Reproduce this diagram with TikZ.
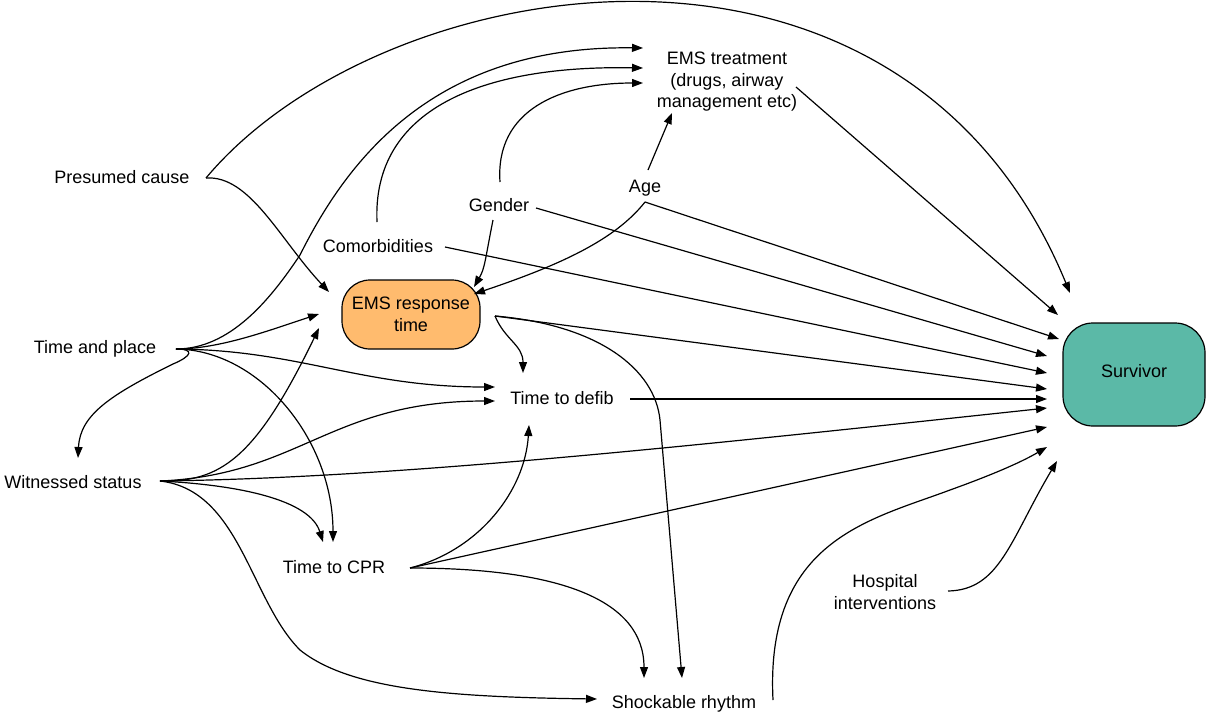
\documentclass[tikz,border=0pt]{standalone}
\usepackage{fontspec}
\setmainfont{Liberation Sans}
\usetikzlibrary{arrows.meta}
\definecolor{ertfill}{HTML}{FFBB6E}
\definecolor{survfill}{HTML}{5BB9A7}
\begin{document}
\begin{tikzpicture}[x=1pt,y=-1pt,
  lbl/.style={font=\fontsize{18}{21.5}\selectfont, inner sep=0pt, align=center, text height=13pt, text depth=0pt},
  mlbl/.style={font=\fontsize{18}{21.5}\selectfont, inner sep=0pt, align=center},
  box/.style={mlbl, draw, line width=1.2pt, rounded corners=28pt},
  edge/.style={line width=1.2pt, -{Triangle[length=11pt,width=8pt]}}]
\useasboundingbox (0,0) rectangle (1206,713);
% nodes
\node[lbl] (pc) at (122,177) {Presumed cause};
\node[lbl] (tp) at (95,347) {Time and place};
\node[lbl] (ws) at (73,482) {Witnessed status};
\node[mlbl] (emt) at (727,82) {EMS treatment\\(drugs, airway\\management etc)};
\node[lbl] (age) at (645,186) {Age};
\node[lbl] (gen) at (499,205) {Gender};
\node[lbl] (com) at (378,246) {Comorbidities};
\node[box, fill=ertfill, minimum width=138pt, minimum height=69pt] (ert) at (411,314.5) {EMS response\\time};
\node[lbl] (ttd) at (562,398) {Time to defib};
\node[lbl] (cpr) at (334,567) {Time to CPR};
\node[lbl] (sr) at (684,702) {Shockable rhythm};
\node[mlbl] (hi) at (885,592) {Hospital\\interventions};
\node[box, fill=survfill, minimum width=142pt, minimum height=103pt, rounded corners=30pt,
      text height=13pt, text depth=7pt] (surv) at (1134,374.5) {Survivor};
% connector ends
\coordinate (pcO) at (206,178);
\coordinate (tpO) at (176,349);
\coordinate (wsO) at (160,481);
\coordinate (comT) at (377,222);
\coordinate (comR) at (445,247);
\coordinate (genT) at (500,182);
\coordinate (genB) at (493,220);
\coordinate (genR) at (536,208);
\coordinate (ageT) at (648,170);
\coordinate (ageB) at (645,202);
\coordinate (emtR) at (796,87);
\coordinate (ertO) at (495,316);
\coordinate (ttdO) at (630,399);
\coordinate (cprO) at (410,568);
\coordinate (srO) at (773,700);
\coordinate (hiO) at (948,591);
\coordinate (emtA) at (643,48);
\coordinate (emtB) at (643,68);
\coordinate (emtC) at (643,83);
\coordinate (emtD) at (672,113);
\coordinate (ertA) at (329,292);
\coordinate (ertB) at (319,314);
\coordinate (ertC) at (319,328);
\coordinate (ertD) at (474,287);
\coordinate (ertE) at (474,294);
\coordinate (ttdA) at (495,387);
\coordinate (ttdB) at (495,401);
\coordinate (ttdC) at (523,373);
\coordinate (ttdD) at (529,425);
\coordinate (cprA) at (323,542);
\coordinate (cprB) at (333,542);
\coordinate (srA) at (597,699);
\coordinate (srB) at (644,678);
\coordinate (srC) at (682,678);
\coordinate (wsI) at (78,458);
\coordinate (sv1) at (1070,293);
\coordinate (sv2) at (1058,315);
\coordinate (sv3) at (1059,339);
\coordinate (sv4) at (1047,356);
\coordinate (sv5) at (1047,373);
\coordinate (sv6) at (1047,389);
\coordinate (sv7) at (1047,399);
\coordinate (sv8) at (1047,408);
\coordinate (sv9) at (1047,427);
\coordinate (sv10) at (1047,447);
\coordinate (sv11) at (1057,461);
% Presumed cause
\draw[edge] (pcO) .. controls (380,-30) and (900,-120) .. (sv1);
\draw[edge] (pcO) .. controls (250,175) and (280,240) .. (ertA);
% Time and place
\draw[edge] (tpO) .. controls (230,349) and (270,300) .. (300,255) .. controls (345,165) and (430,45) .. (emtA);
\draw[edge] (tpO) .. controls (220,349) and (270,330) .. (ertB);
\draw[edge] (tpO) .. controls (300,350) and (360,387) .. (ttdA);
\draw[edge] (tpO) .. controls (260,350) and (333,440) .. (cprB);
\draw[edge] (tpO) .. controls (195,349) and (192,356) .. (173,364) .. controls (110,395) and (80,415) .. (wsI);
% Witnessed status
\draw[edge] (wsO) .. controls (220,482) and (255,460) .. (ertC);
\draw[edge] (wsO) .. controls (300,475) and (330,401) .. (ttdB);
\draw[edge] (wsO) .. controls (400,478) and (700,445) .. (sv8);
\draw[edge] (wsO) .. controls (240,485) and (310,500) .. (cprA);
\draw[edge] (wsO) .. controls (240,490) and (250,600) .. (300,650) .. controls (350,690) and (450,697) .. (srA);
% Comorbidities
\draw[edge] (comT) .. controls (372,110) and (480,65) .. (emtB);
\draw[edge] (comR) -- (sv5);
% Gender
\draw[edge] (genT) .. controls (495,110) and (560,83) .. (emtC);
\draw[edge] (genB) .. controls (485,260) and (485,268) .. (ertD);
\draw[edge] (genR) -- (sv4);
% Age
\draw[edge] (ageT) -- (emtD);
\draw[edge] (ageB) .. controls (615,240) and (560,265) .. (ertE);
\draw[edge] (ageB) -- (sv3);
% EMS treatment
\draw[edge] (emtR) -- (sv2);
% EMS response time
\draw[edge] (ertO) .. controls (505,340) and (523,345) .. (ttdC);
\draw[edge] (ertO) .. controls (600,325) and (655,370) .. (660,420) -- (srC);
\draw[edge] (ertO) -- (sv6);
% Time to defib
\draw[edge] (ttdO) -- (sv7);
% Time to CPR
\draw[edge] (cprO) .. controls (480,550) and (525,490) .. (ttdD);
\draw[edge] (cprO) -- (sv9);
\draw[edge] (cprO) .. controls (560,568) and (644,600) .. (srB);
% Shockable rhythm
\draw[edge] (srO) .. controls (765,540) and (870,520) .. (950,490) .. controls (1000,472) and (1025,460) .. (sv10);
% Hospital interventions
\draw[edge] (hiO) .. controls (1000,590) and (1010,540) .. (sv11);
\end{tikzpicture}
\end{document}
